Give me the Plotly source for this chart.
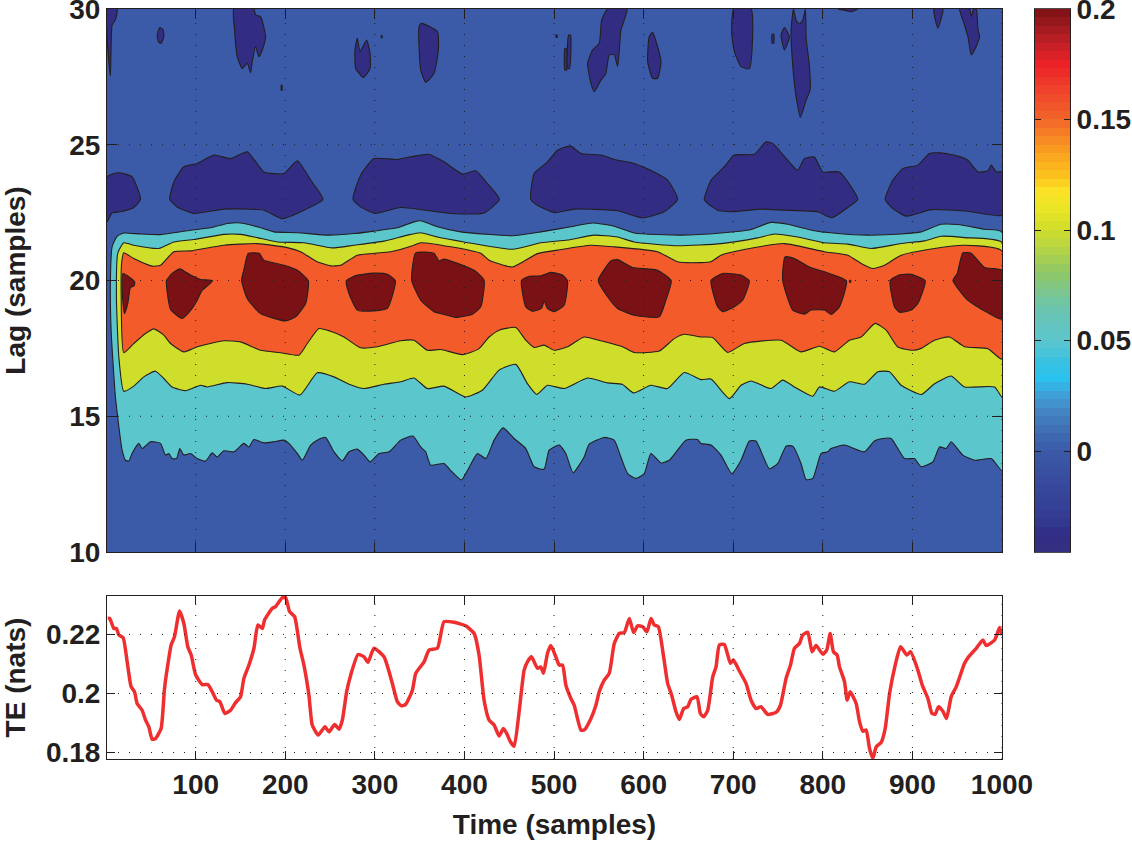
#!/usr/bin/env python3
"""Lag/time contour map of transfer entropy with the TE trace underneath."""
import plotly.graph_objects as go

# contour boundaries, as (time, lag)
cyan_low = [(4.8,20),(5.6,18.17),(10.4,15.72),(17.9,13.75),(21.6,13.38),(25.3,13.35),(29,13.63),(36.5,14),(40.2,13.81),
    (49.5,14.06),(60.7,14),(66.3,13.57),(70,13.63),(73.7,13.44),(78.6,13.44),(82.3,13.81),(86.8,13.57),(94.2,13.63),
    (101.7,13.44),(111,13.35),(118.4,13.65),(124,13.5),(131.5,13.73),(142.6,13.69),(153.8,14),(159.4,13.87),(165,14.14),
    (176.1,14.02),(187.3,14.06),(198.5,14.12),(205.9,13.94),(213.4,13.63),(219,13.38),(228.3,13.94),(235.7,14.12),
    (245,14.22),(254.4,13.69),(263.7,13.36),(271.1,13.69),(280.4,13.79),(287.9,13.57),(294.6,13.32),(304.6,13.63),
    (315.8,13.69),(328.8,14.12),(342.5,14.27),(351.1,13.87),(356.7,13.69),(362.3,13.2),(377.2,13.26),(384.7,13),
    (396.6,12.65),(403.3,13),(414.5,13.63),(423.8,13.44),(433.1,14.12),(443.1,14.57),(455.4,14.18),(468.5,13.81),
    (477.8,13.14),(488.9,13.05),(494.5,13.75),(505.7,13.94),(513.1,13.63),(521.3,12.92),(533.6,13.5),(539.2,13.97),
    (556,14.22),(567.1,14.12),(574.6,13.5),(582.1,12.89),(591.3,12.71),(600.7,12.89),(608.1,13.63),(619.3,13.28),
    (628.6,13.38),(647.2,14.12),(660.2,14.14),(664,14),(675.2,13.94),(686.3,13.57),(698.3,12.89),(708.7,13.38),
    (718,14.09),(725.4,14.09),(740.3,13.07),(749.7,13.26),(759,13.9),(766.4,13.9),(775.7,13.26),(781.3,12.67),
    (788.8,12.71),(798.1,13.63),(805.5,13.69),(809.2,13.81),(824.1,13.94),(846.5,13.69),(857.6,14.09),(867,14.18),
    (876.3,14.18),(891.2,13.44),(902.3,13.44),(909.8,13.14),(922.8,13.32),(930.3,13.87),(937.7,13.81),(943.3,14.06),
    (956.3,13.57),(969.4,13.38),(988,13.44),(1000,13)]
cyan_up = [(6.7,21.24),(12.3,21.63),(19.7,21.75),(38.4,21.71),(60.7,21.69),(94.2,21.85),(116.6,21.94),(135.2,22.1),
    (150.1,22.12),(168.7,21.98),(187.3,21.79),(213.4,21.76),(248.8,21.67),(276.7,21.73),(299,21.82),(325.1,21.94),
    (343.7,22.16),(351.1,22.2),(369.8,21.98),(395.8,21.79),(453.6,21.65),(485.2,21.79),(518.7,21.98),(542.9,22.12),
    (567.1,22),(589.5,21.75),(641.6,21.67),(686.3,21.75),(719.9,21.88),(742.2,22.14),(760.8,22.07),(790.6,21.83),
    (816.7,21.73),(850.2,21.67),(887.4,21.71),(909.8,21.79),(932.1,22.07),(950.7,22.06),(980.5,21.89),(1000,21.79)]
yellow_low = [(11.5,19.4),(14.2,17.19),(19.7,15.92),(30.9,16.11),(42.1,16.45),(55.1,16.66),(64.4,16.39),(73.7,16.08),
    (88.6,15.94),(105.4,16.14),(112.8,16.08),(135.2,16.24),(157.5,16.18),(178,16.02),(196.6,16.11),(216.4,15.78),
    (235.7,16.6),(254.4,16.45),(271.1,16.18),(287.9,16.02),(310.2,16.18),(328.8,16.27),(343.7,16.41),(358.6,16.02),
    (377.2,16.11),(401.4,15.71),(420,15.96),(438.7,16.7),(457.3,16.91),(470.3,16.2),(480.7,15.8),(492.7,16.14),
    (511.3,16.02),(537.3,16.41),(559.7,16.23),(576.4,16.17),(588.7,15.86),(608.1,16.14),(626.7,16.02),(645.3,16.61),
    (664,16.35),(675.2,16.37),(695.7,15.65),(708.7,16.14),(719.9,16.3),(742.2,16.02),(755.2,16.33),(768.3,16.08),
    (788.8,15.74),(796.2,16.08),(813,15.92),(829.7,16.27),(846.5,16.18),(861.4,16.64),(874.4,16.64),(887.4,16.14),
    (909.8,15.8),(924.7,16.2),(943.3,16.48),(958.2,16.08),(991.7,16.08),(1000,15.71)]
yellow_up = [(13,21),(19.7,21.39),(30.9,21.3),(58.8,21.18),(75.6,21.42),(98,21.51),(131.5,21.7),(150.1,21.7),(168.7,21.58),
    (191,21.42),(220.8,21.39),(252.5,21.2),(276.7,21.3),(310.2,21.45),(336.3,21.67),(351.1,21.76),(369.8,21.6),
    (399.6,21.42),(453.6,21.15),(485.2,21.39),(515,21.49),(544.8,21.67),(570.9,21.6),(589.5,21.42),(637.9,21.28),
    (686.3,21.36),(727.3,21.57),(745.9,21.71),(772,21.6),(801.8,21.39),(827.9,21.34),(853.9,21.18),(887.4,21.36),
    (913.5,21.46),(932.1,21.63),(958.2,21.58),(1000,21.4)]
orange_low = [(16.8,19.4),(19.7,17.34),(30.9,17.68),(44,18.05),(53.3,18.22),(64.4,17.99),(71.9,17.68),(86.8,17.37),
    (101.7,17.56),(131.5,17.78),(150.1,17.74),(172.4,17.43),(194.8,17.34),(215.3,17.25),(224.6,17.68),(237.6,18.23),
    (250.6,18.13),(265.5,17.92),(284.1,17.52),(302.8,17.56),(328.8,17.78),(343.7,17.8),(358.6,17.43),(373.5,17.46),
    (397.7,17.27),(416.3,17.49),(427.5,17.92),(438.7,18.17),(457.3,18.27),(468.5,17.8),(477.8,17.53),(489,17.62),
    (500.1,17.43),(515,17.56),(533.6,17.92),(552.2,17.78),(576.4,17.56),(589.5,17.35),(617.4,17.4),(634.2,17.86),
    (645.3,18.02),(664,17.92),(677,17.9),(693.8,17.35),(712.4,17.68),(753.4,17.8),(775.7,17.37),(796.2,17.58),
    (813,17.37),(829.7,17.8),(842.8,17.92),(858.4,18.42),(870.7,18.17),(883.7,17.55),(900.5,17.43),(909.8,17.5),
    (924.7,17.8),(941.4,17.92),(958.2,17.56),(984.3,17.49),(1000,17.1)]
orange_up = [(17.5,20.7),(19.7,21.02),(30.9,20.81),(51.4,20.53),(60.7,20.56),(75.6,21.06),(94.2,21.09),(131.5,21.3),
    (168.7,21.36),(202.2,21.21),(217.1,21.06),(235.7,20.69),(250.6,20.54),(261.8,20.56),(280.4,20.93),(317.7,21.06),
    (343.7,21.3),(351.1,21.39),(384.7,21.24),(418.2,21),(427.5,20.75),(453.6,20.5),(481.5,20.99),(503.8,21.12),
    (541,21.3),(567.1,21.24),(615.5,21.06),(637.9,20.69),(664,20.66),(675.2,20.69),(686.3,20.93),(712.4,21.14),
    (757.1,21.36),(801.8,21.06),(827.9,20.93),(842.8,20.63),(855.8,20.44),(868.8,20.56),(887.4,20.93),(924.7,21.18),
    (958.2,21.3),(1000,21.09)]

red_blobs = [
    [(19,20.26),(32,19.95),(31,19.79),(27.2,19.74),(24.2,19.15),(20.5,18.78),(18.3,19.4)],
    [(67.4,20),(73.7,20.26),(82.3,20.43),(94.2,20.2),(105.4,20.04),(118.8,19.99),(112.8,19.79),(107.3,19.64),(101.7,19.27),
     (96.1,18.97),(84.9,18.6),(71.9,18.93),(68.9,19.4)],
    [(151.2,20),(154.5,20.5),(158.6,21),(171,21),(176.1,20.75),(198.5,20.56),(213.4,20.38),(225.7,19.99),(222.7,19.15),
     (211.5,18.66),(200.4,18.51),(172.4,18.78),(157.5,19.34)],
    [(268.1,19.99),(278.6,20.18),(299,20.27),(313.9,20.23),(322.9,19.99),(313.9,18.97),(299,18.88),(280.4,18.91),(271.1,19.52)],
    [(341.1,20),(345.6,21.02),(366,21),(371.6,20.72),(377.2,20.79),(410.7,20.38),(421.9,20.01),(418.2,19.03),(408.9,18.76),
     (390.2,18.64),(377.2,18.75),(366,18.85),(351.1,19.28)],
    [(463.6,20),(472.2,20.16),(485.2,20.17),(496.4,20.3),(509.4,20.2),(515,19.99),(511.3,19.09),(500.1,18.85),(492.7,18.97),
     (488.9,19.24),(486,18.97),(475.9,18.87),(468.5,19.03)],
    [(549.3,20),(563.4,20.72),(570.9,20.77),(587.6,20.48),(615.5,20.38),(630.8,19.99),(624.9,19.28),(617.4,18.66),(589.5,18.72),
     (570.9,18.97),(559.7,19.4)],
    [(675.2,20),(688.2,20.26),(708.7,20.2),(718,19.99),(710.6,19.28),(701.2,19.03),(688.2,18.85),(682.6,19.03)],
    [(755.2,20),(757.8,20.87),(768.3,20.81),(785,20.5),(805.5,20.28),(826.4,19.99),(818.5,19.03),(809.2,18.75),(801.8,18.91),
     (786.9,18.91),(779.4,18.76),(766.4,18.91)],
    [(829.6,19.97),(830.5,20.02),(831.4,19.97),(830.5,19.92)],
    [(875.2,20),(885.6,20.21),(898.6,20.23),(914.3,19.99),(906.1,19.15),(898.6,18.91),(885.6,18.83),(880,19.03)],
    [(945.2,20),(950,20.26),(956.3,21.02),(965.6,21),(980.5,20.48),(1000,20.38),(1000,18.58),(984.3,18.81),(961.9,19.27)],
]
navy_blobs = [
    [(1,23.82),(14.2,23.97),(29,23.82),(38.4,22.99),(30.9,22.69),(16,22.53),(6.7,22.49),(1,22.16)],
    [(71.1,22.99),(75.6,23.63),(86.8,24.19),(101.7,24.31),(120.3,24.62),(138.9,24.49),(157.5,24.74),(176.1,24),(198.5,23.94),
     (213.4,24.41),(228.3,23.7),(242.1,22.99),(220.8,22.59),(196.6,22.28),(176.1,22.59),(131.5,22.63),(98,22.47),(79.3,22.71)],
    [(275.6,22.99),(284.1,23.88),(299,24.49),(325.1,24.46),(343.7,24.58),(360.5,24.65),(377.2,24.37),(397.7,23.92),(412.6,24.04),
     (425.6,23.57),(439,22.99),(421.9,22.49),(384.7,22.47),(328.8,22.69),(300.2,22.47),(284.1,22.71)],
    [(474,22.99),(477.8,23.94),(492.7,24.37),(503.8,24.8),(518.7,24.95),(529.9,24.68),(552.2,24.62),(567.1,24.46),(589.5,24.31),
     (611.8,24),(626.7,23.7),(637.9,22.99),(623,22.53),(598.8,22.31),(570.9,22.57),(522.5,22.63),(500.1,22.5),(481.5,22.77)],
    [(667.7,22.99),(675.2,23.69),(690.1,24.19),(701.2,24.62),(723.6,24.65),(736.6,25.11),(744.1,25.05),(760.8,24.43),(772,24.06),
     (779.4,24.49),(790.6,24.55),(799.9,24),(818.5,24),(831.6,23.45),(839,22.99),(827.9,22.69),(810,22.31),(794.3,22.53),
     (757.1,22.59),(731,22.63),(699.4,22.53),(682.6,22.59),(671.4,22.84)],
    [(869.6,22.99),(878.1,23.69),(889.3,24.12),(906.1,24.25),(919.1,24.68),(932.1,24.7),(950.7,24.58),(961.9,24.43),(973.1,24),
     (984.3,24.04),(988,24.25),(993.6,24),(1000,24),(1000,22.41),(961.9,22.55),(921,22.61),(893,22.37),(878.1,22.65)],
    # the patches hanging from the top edge
    [(1,30),(12.3,30),(10.4,29.6),(6.7,29.41),(4.8,27.53),(3,28.1),(1,29.1)],
    [(57,29.04),(60,29.32),(63.7,29.23),(64.4,28.98),(61.5,28.74),(58.8,28.77)],
    [(142.6,30),(165,30),(166.8,29.78),(172.4,29.72),(178,28.98),(174.3,28.49),(170.6,28.24),(166.8,28.61),(163.1,28.06),
     (161.3,27.65),(157.5,28),(152,27.81),(146.4,28.24),(143.4,29.23)],
    [(195.5,27.2),(196.3,27.2),(196.3,27),(195.5,27)],
    [(277.8,28.49),(280.4,28.92),(283.4,28.43),(290.8,28.86),(294.6,28.37),(294.6,27.81),(287.1,27.48),(278.6,27.81)],
    [(307.2,29.02),(308,29.02),(308,28.94),(307.2,28.94)],
    [(349.3,29.35),(351.9,29.47),(369.8,29.17),(370.9,28.49),(366,27.63),(356.8,27.3),(351.2,27.75),(349.3,28.61)],
    [(502.2,29.04),(503.4,29.04),(503.4,28.96),(502.2,28.96)],
    [(512.1,28.55),(514,28.55),(514,27.75),(512.1,27.75)],
    [(516.2,29.04),(518.4,29.04),(517.3,27.81),(515.1,27.81)],
    [(559.8,30),(581.4,30),(574.7,29.23),(571,27.88),(567.2,28.31),(561.6,28.31),(557.9,27.63),(552.3,27.38),(544.9,26.95),
     (541.2,27.26),(537.4,28),(543,28.49),(550.5,28.74),(553.1,29.59)],
    [(610,29.14),(615.6,28.61),(619.4,28.06),(615.6,27.45),(610,27.45),(604.5,28.06),(606.3,29)],
    [(700.5,30),(719.9,30),(718,27.81),(708.7,27.88),(701.3,28.43),(698.3,29.1)],
    [(743.4,29.07),(745.2,29.07),(745.2,28.74),(743.4,28.74)],
    [(753.4,29.04),(757.2,29.32),(762.7,28.98),(757.2,28.49)],
    [(767.2,30),(770.2,29.59),(773.9,29.45),(777.6,29.59),(780.6,30),(781.4,28.92),(785.1,27.88),(785.8,27.02),(781.4,26.65),
     (775,26.01),(770.2,26.77),(766.5,27.88),(764.6,29.23)],
    [(816.7,30),(826,29.94),(831.6,29.9),(839,30)],
    [(924,30),(934,30),(928.4,29.29)],
    [(952.7,30),(963.8,30),(965.7,29.72),(968.3,30),(971.3,30),(973.2,29.23),(975,28.98),(969.4,28.49),(965.7,28.31),(962,28.98),
     (956.4,29.59)],
]

te_time = [1.9,4.1,8.6,11.5,14.2,19,23.5,27.9,31.7,34.6,40.2,44,47.7,51.4,55.1,61.4,65.2,70,72.6,76.3,82,86.8,91.2,95,99.8,
    107.3,113.6,118.4,123.3,127,132.6,138.9,144.5,150.1,153.8,159.4,165,169.4,174.3,176.9,185.5,189.2,196.6,200.4,204.8,
    210.4,216.4,220.8,226.4,230.1,236.8,244.3,248.8,255.1,260,263.7,268.5,273,281.2,287.9,292.3,299,310.2,319.5,325.1,
    329.6,334.4,341.9,345.6,354.9,360.5,369.8,377.2,388.4,401.4,410.8,416.3,421.9,427.5,433.1,438.7,443.5,448,451,455.5,
    461,466.6,470.3,474.8,481.5,485.2,488.2,492.7,496.5,502,505.8,509.5,513.2,518.8,522.5,530,533.7,541.2,546.7,550.5,
    556,561.6,567.2,572.8,578.4,584,588.8,593.3,598.9,603.7,608.2,611.9,616.4,622.3,626.8,631.3,636.1,639.8,644.7,649.2,
    652.9,659.6,663.3,667,671.5,677.1,680.8,684.5,690.1,696.8,700.2,706.9,714.3,719.9,725.5,731.1,738.5,747.8,752.7,759,
    763.9,768.3,773.9,777.6,783.2,788,792.5,800,804.4,808.2,811.9,816,818.6,824.2,827.2,830.5,837.2,841,844.7,848.4,
    852.1,855.8,859.6,865.1,869.6,874.5,880.8,886.8,893.8,897.9,906.1,911,917.3,921.8,925.5,929.2,934,938.1,943.3,949,
    958.2,962.7,971.3,978.7,982.4,991.8,997.3,1000]
te_nats = [.2254,.2254,.222,.222,.2198,.2189,.2107,.2023,.2006,.1966,.1943,.191,.1887,.1845,.1847,.1881,.2017,.2119,.2164,
    .2192,.2279,.2237,.2158,.213,.2064,.203,.203,.2006,.1977,.1972,.1932,.1943,.1969,.1989,.2051,.2096,.2153,.2232,.222,
    .2249,.2288,.2294,.2324,.2324,.2277,.226,.2153,.2096,.1994,.1893,.1859,.1887,.187,.1895,.1879,.191,.2006,.2062,.2132,
    .2124,.2105,.2153,.2124,.2034,.1972,.1958,.1963,.2011,.2068,.2107,.2147,.2153,.2243,.2241,.2229,.2203,.213,.1977,.191,
    .1893,.1856,.1881,.1859,.1838,.1821,.1938,.2079,.2107,.2124,.2085,.209,.2068,.2136,.2162,.2124,.2096,.2096,.2028,.1983,
    .196,.1876,.1876,.1915,.196,.2006,.2045,.2068,.2169,.2203,.2206,.2254,.2206,.2229,.2226,.2209,.2254,.2232,.2226,.2124,
    .2034,.1994,.1938,.1912,.1949,.1955,.198,.1989,.1932,.1921,.1943,.2056,.209,.2164,.2166,.2102,.2113,.2076,.2034,.1977,
    .1949,.1955,.1929,.1936,.196,.2051,.2096,.2153,.2169,.2198,.2207,.2141,.2162,.2133,.2147,.2203,.2141,.213,.209,.204,
    .1977,.2006,.1966,.1904,.1872,.1876,.1814,.178,.1819,.1834,.1881,.2,.2096,.2158,.213,.2141,.2079,.2028,.1983,.1932,
    .193,.1955,.194,.1915,.1989,.2023,.2102,.2124,.2153,.2181,.2162,.2181,.2223,.2198]

time_ticks = [100, 200, 300, 400, 500, 600, 700, 800, 900, 1000]
lag_ticks = [10, 15, 20, 25, 30]
te_ticks = [0.18, 0.2, 0.22]
te_labels = ["0.18", "0.2", "0.22"]
bar_ticks = [0, 0.05, 0.1, 0.15, 0.2]
bar_labels = ["0", "0.05", "0.1", "0.15", "0.2"]

# colour ramp of the colour bar, 64 steps over its range
bar_min, bar_max = -0.0457, 0.2
bar_stops = [-0.0457,-0.038,-0.03,-0.015,0,0.01,0.018,0.026,0.033,0.04,0.05,0.065,0.08,0.09,0.1,0.11,0.117,0.125,
    0.135,0.15,0.165,0.175,0.185,0.2]
bar_colors = ["#352f7e","#322d86","#343c92","#37499c","#3b5aa8","#3f71b4","#4485c3","#3ea3d9","#2ac2ef","#38c1e0",
    "#5cc5ce","#6cc4ad","#8cc769","#afd24a","#cfdd2b","#ebe626","#fbe426","#fcc01e","#f9a11f","#f26529","#ef3d2c",
    "#ec2227","#bd2026","#7a1114"]

W, H = 1132, 841
INK = "#231f20"
BLUE, NAVY, CYAN, YELLOW, ORANGE, RED = "#3b5aa8", "#322d83", "#5cc6cd", "#cfdd2b", "#f35c2a", "#7a1114"
FONT = "Liberation Sans"


def patch(pts, color, line=True):
    xs, ys = zip(*(list(pts) + [pts[0]]))
    return go.Scatter(x=xs, y=ys, mode="lines", fill="toself", fillcolor=color, hoverinfo="skip",
                      line=dict(color=INK if line else color, width=1.1, shape="spline" if line else "linear",
                                smoothing=0.5),
                      showlegend=False, xaxis="x", yaxis="y")


fig = go.Figure()
fig.add_trace(patch([(1, 10), (1000, 10), (1000, 30), (1, 30)], BLUE, line=False))
fig.add_trace(patch(cyan_low + cyan_up[::-1], CYAN))
fig.add_trace(patch(yellow_low + yellow_up[::-1], YELLOW))
fig.add_trace(patch(orange_low + orange_up[::-1], ORANGE))
for blob in red_blobs:
    fig.add_trace(patch(blob, RED))
for blob in navy_blobs:
    fig.add_trace(patch(blob, NAVY))

fig.add_trace(go.Scatter(x=te_time, y=te_nats, mode="lines",
                         line=dict(color="#ee2e2f", width=3.5, shape="spline", smoothing=0.5),
                         showlegend=False, xaxis="x2", yaxis="y2"))

n_steps = 64
levels = [bar_min + (i + 0.5) * (bar_max - bar_min) / n_steps for i in range(n_steps)]
scale = [[(v - bar_min) / (bar_max - bar_min), c] for v, c in zip(bar_stops, bar_colors)]
fig.add_trace(go.Heatmap(x=[0], y=levels, z=[[v] for v in levels], zmin=bar_min, zmax=bar_max, colorscale=scale,
                         showscale=False, hoverinfo="skip", xaxis="x3", yaxis="y3"))

# MATLAB draws the dotted grid over the fills, so these go in as shapes above the traces
grid = dict(color=INK, width=1, dash="1px,10px")
for t in time_ticks:
    fig.add_shape(type="line", xref="x", yref="paper", x0=t, x1=t, y0=289 / H, y1=832 / H, line=grid, layer="above")
    fig.add_shape(type="line", xref="x2", yref="paper", x0=t, x1=t, y0=82 / H, y1=245 / H, line=grid, layer="above")
for v in lag_ticks[1:-1]:
    fig.add_shape(type="line", xref="paper", yref="y", x0=107 / W, x1=1002 / W, y0=v, y1=v, line=grid, layer="above")
for v in te_ticks:
    fig.add_shape(type="line", xref="paper", yref="y2", x0=107 / W, x1=1002 / W, y0=v, y1=v, line=grid, layer="above")

tick_font = dict(family=FONT, size=28, color=INK, weight="bold")
title_font = dict(family=FONT, size=28, color=INK, weight="bold")
axis = dict(showgrid=False, zeroline=False, showline=True, linecolor=INK, linewidth=1, mirror="allticks",
            ticks="inside", ticklen=10, tickcolor=INK, tickwidth=1, tickfont=tick_font, layer="above traces",
            automargin=False, ticklabeloverflow="allow")

fig.update_layout(
    width=W, height=H, margin=dict(l=0, r=0, t=0, b=0), paper_bgcolor="white", plot_bgcolor="white", showlegend=False,
    xaxis=dict(axis, domain=[107 / W, 1002 / W], range=[1, 1000], tickvals=time_ticks, showticklabels=False, anchor="y"),
    yaxis=dict(axis, domain=[289 / H, 832 / H], range=[10, 30], tickvals=lag_ticks, anchor="x",
               title=dict(text="Lag (samples)", font=title_font, standoff=40)),
    xaxis2=dict(axis, domain=[107 / W, 1002 / W], range=[1, 1000], tickvals=time_ticks, anchor="y2", ticklen=8,
                title=dict(text="Time (samples)", font=title_font, standoff=15)),
    yaxis2=dict(axis, domain=[82 / H, 245 / H], range=[0.1778, 0.233], tickvals=te_ticks, ticktext=te_labels,
                anchor="x2", ticklen=8, title=dict(text="TE (nats)", font=title_font, standoff=12)),
    xaxis3=dict(domain=[1035 / W, 1070 / W], showticklabels=False, ticks="", showgrid=False, zeroline=False,
                showline=True, linecolor="#4d4d4f", mirror=True, anchor="y3", range=[-0.5, 0.5]),
    yaxis3=dict(axis, domain=[289 / H, 832 / H], range=[bar_min, bar_max], tickvals=bar_ticks, ticktext=bar_labels,
                side="right", anchor="x3", ticklen=6),
)

# the default page has an 8px body margin, which would push the figure off the window
fig.write_html("out.html", config={"displayModeBar": False},
               post_script="document.body.style.margin='0';document.body.style.overflow='hidden';")
